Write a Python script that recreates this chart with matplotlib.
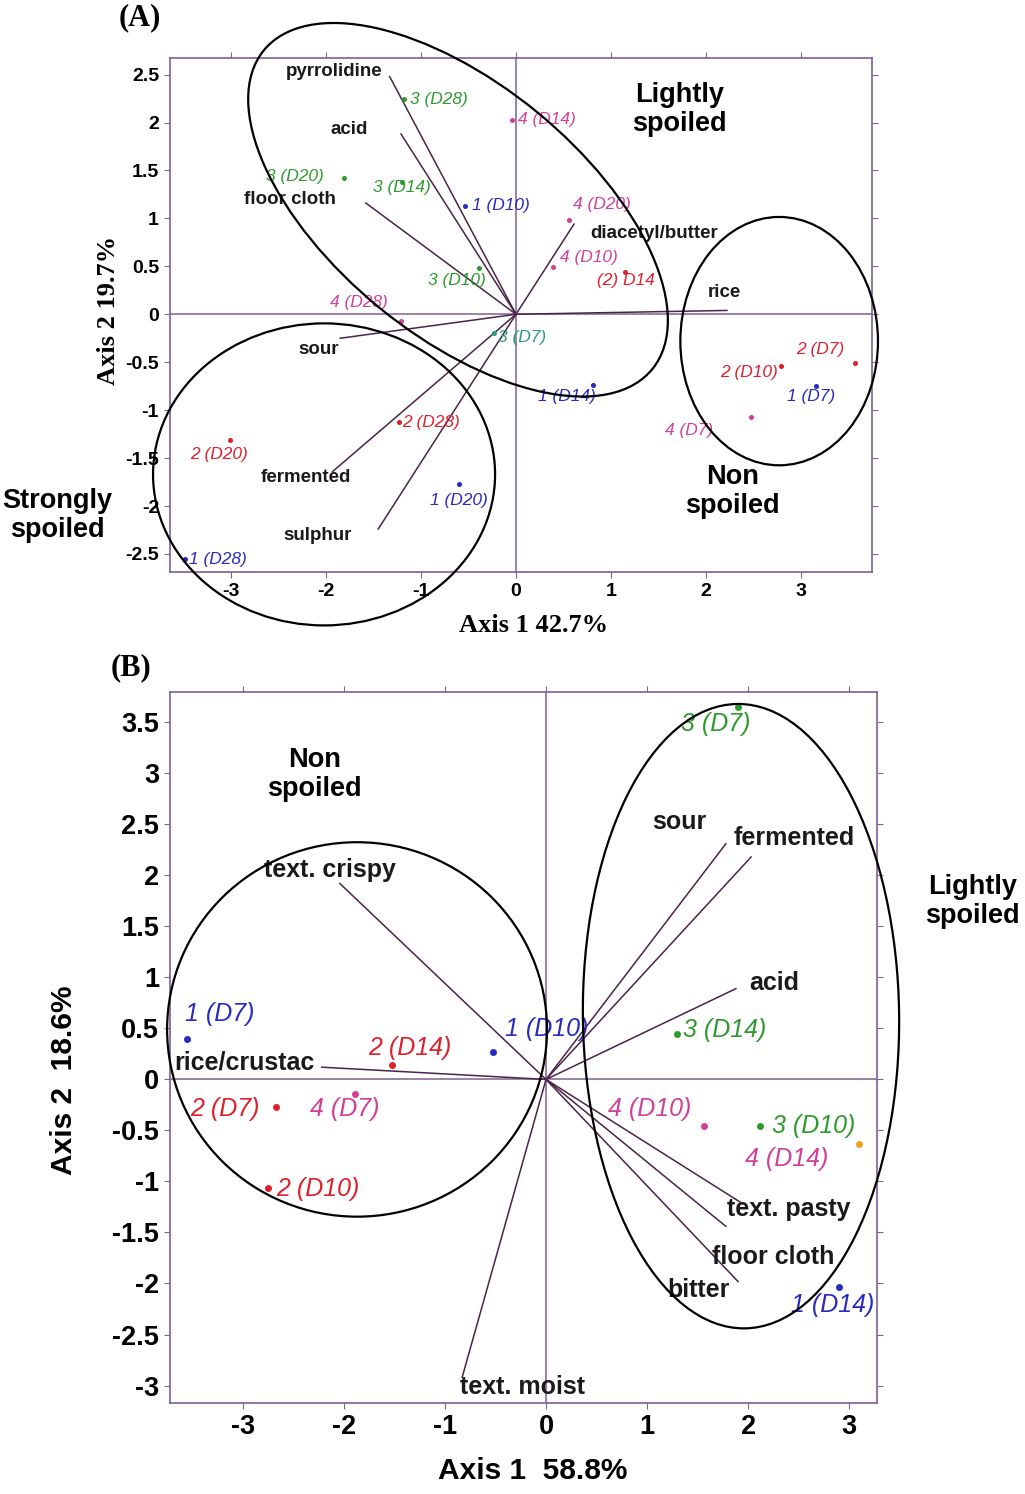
import numpy as np
import matplotlib.pyplot as plt
from matplotlib.patches import Ellipse
from matplotlib.ticker import FuncFormatter

# ---------------- panel A data ----------------
a_pts = ["3 (D28)", "4 (D14)", "3 (D20)", "3 (D14)", "1 (D10)", "4 (D20)", "4 (D10)",
         "(2) D14", "3 (D10)", "4 (D28)", "3 (D7)", "1 (D14)", "2 (D28)", "2 (D20)",
         "1 (D20)", "1 (D28)", "2 (D7)", "2 (D10)", "1 (D7)", "4 (D7)"]
a_x = [-1.18, -0.04, -1.81, -1.20, -0.54, 0.56, 0.39, 1.15, -0.39, -1.21, -0.23, 0.81,
       -1.23, -3.01, -0.60, -3.48, 3.57, 2.79, 3.16, 2.47]
a_y = [2.24, 2.03, 1.42, 1.38, 1.13, 0.98, 0.49, 0.44, 0.48, -0.07, -0.20, -0.74,
       -1.12, -1.31, -1.77, -2.55, -0.51, -0.54, -0.75, -1.07]
a_col = ["green", "pink", "green", "green", "blue", "pink", "pink", "red", "green", "pink",
         "teal", "blue", "red", "red", "blue", "blue", "red", "red", "blue", "pink"]
a_lab_x = [-1.12, 0.02, -2.63, -1.50, -0.46, 0.60, 0.46, 0.85, -0.93, -1.96, -0.19, 0.23,
           -1.20, -3.43, -0.91, -3.44, 2.95, 2.15, 2.85, 1.57]
a_lab_y = [2.24, 2.03, 1.44, 1.32, 1.13, 1.15, 0.59, 0.35, 0.35, 0.12, -0.24, -0.86,
           -1.13, -1.46, -1.94, -2.56, -0.37, -0.61, -0.86, -1.21]

a_vars = ["pyrrolidine", "acid", "floor cloth", "diacetyl/butter", "rice", "sour",
          "fermented", "sulphur"]
a_vx = [-1.33, -1.21, -1.58, 0.61, 2.22, -1.85, -1.93, -1.45]
a_vy = [2.48, 1.88, 1.16, 0.94, 0.04, -0.25, -1.64, -2.24]
a_vlab_x = [-2.42, -1.95, -2.86, 0.78, 2.02, -2.29, -2.69, -2.45]
a_vlab_y = [2.53, 1.93, 1.20, 0.84, 0.23, -0.37, -1.70, -2.31]

# ---------------- panel B data ----------------
b_pts = ["3 (D7)", "1 (D7)", "1 (D10)", "2 (D14)", "3 (D14)", "2 (D7)", "4 (D7)",
         "2 (D10)", "4 (D10)", "3 (D10)", "4 (D14)", "1 (D14)"]
b_x = [1.90, -3.55, -0.52, -1.52, 1.30, -2.67, -1.89, -2.75, 1.56, 2.12, 3.10, 2.90]
b_y = [3.65, 0.40, 0.27, 0.14, 0.45, -0.27, -0.14, -1.06, -0.46, -0.46, -0.63, -2.03]
b_col = ["green", "blue", "blue", "red", "green", "red", "pink", "red", "pink", "green",
         "orange", "blue"]
b_txtcol = ["green", "blue", "blue", "red", "green", "red", "pink", "red", "pink", "green",
            "pink", "blue"]
b_lab_x = [1.34, -3.57, -0.41, -1.76, 1.36, -3.52, -2.34, -2.67, 0.61, 2.24, 1.97, 2.42]
b_lab_y = [3.48, 0.64, 0.49, 0.31, 0.48, -0.29, -0.29, -1.07, -0.29, -0.46, -0.78, -2.21]

b_vars = ["text. crispy", "rice/crustac", "text. moist", "sour", "fermented", "acid",
          "text. pasty", "floor cloth", "bitter"]
b_vx = [-2.04, -2.22, -0.83, 1.78, 2.03, 1.88, 1.95, 1.78, 1.90]
b_vy = [1.92, 0.12, -2.92, 2.31, 2.18, 0.89, -1.22, -1.44, -1.98]
b_vlab_x = [-2.79, -3.68, -0.85, 1.05, 1.86, 2.01, 1.79, 1.64, 1.20]
b_vlab_y = [2.05, 0.17, -3.01, 2.52, 2.37, 0.95, -1.27, -1.74, -2.06]

colors = {"green": "#2e9a2e", "pink": "#d0409a", "blue": "#2a2ac0", "red": "#e0202c",
          "teal": "#2a9a80", "orange": "#f0a020"}
frame = "#7f6090"
vec = "#4a2448"
sans = "Liberation Sans"
serif = "Liberation Serif"

fig = plt.figure(figsize=(10.25, 14.94), dpi=100)


def style_axes(ax, size):
    for s in ax.spines.values():
        s.set_color(frame)
        s.set_linewidth(1.2)
    ax.axhline(0, color=frame, lw=1.1, zorder=1)
    ax.axvline(0, color=frame, lw=1.1, zorder=1)
    ax.tick_params(direction="out", length=4, color=frame, top=True, right=True,
                   labelsize=size, pad=4)
    ax.xaxis.set_major_formatter(FuncFormatter(lambda v, p: f"{v:g}"))
    ax.yaxis.set_major_formatter(FuncFormatter(lambda v, p: f"{v:g}"))
    for lab in ax.get_xticklabels() + ax.get_yticklabels():
        lab.set_fontfamily(sans)
        lab.set_fontweight("bold")


# ================= (A) =================
axA = fig.add_axes([0.166, 0.617, 0.685, 0.344])
axA.set_xlim(-3.64, 3.75)
axA.set_ylim(-2.69, 2.67)
axA.set_xticks(np.arange(-3, 4, 1))
axA.set_yticks(np.arange(-2.5, 2.75, 0.5))
style_axes(axA, 14)

for vx, vy in zip(a_vx, a_vy):
    axA.plot([0, vx], [0, vy], color=vec, lw=1.1, zorder=2)
for name, lx, ly in zip(a_vars, a_vlab_x, a_vlab_y):
    axA.text(lx, ly, name, fontsize=13.5, fontweight="bold", family=sans,
             ha="left", va="center", color="#1a1a1a")
for x, y, c in zip(a_x, a_y, a_col):
    axA.plot(x, y, "o", ms=2.6, color=colors[c], zorder=3)
for name, lx, ly, c in zip(a_pts, a_lab_x, a_lab_y, a_col):
    axA.text(lx, ly, name, fontsize=12.5, style="italic", family=sans,
             ha="left", va="center", color=colors[c])

axA.add_patch(Ellipse((-0.61, 1.09), 5.27, 2.63, angle=-39, fill=False, ec="black",
                      lw=1.6, clip_on=False, zorder=4))
axA.add_patch(Ellipse((-2.02, -1.67), 3.6, 3.15, fill=False, ec="black",
                      lw=1.6, clip_on=False, zorder=4))
axA.add_patch(Ellipse((2.77, -0.28), 2.08, 2.59, fill=False, ec="black",
                      lw=1.6, clip_on=False, zorder=4))

axA.text(1.72, 2.14, "Lightly\nspoiled", fontsize=19.5, fontweight="bold", family=sans,
         ha="center", va="center", linespacing=1.15)
axA.text(2.28, -1.85, "Non\nspoiled", fontsize=19.5, fontweight="bold", family=sans,
         ha="center", va="center", linespacing=1.15)
axA.text(-4.83, -2.10, "Strongly\nspoiled", fontsize=19.5, fontweight="bold", family=sans,
         ha="center", va="center", linespacing=1.15)

axA.set_xlabel("Axis 1 42.7%", fontsize=19, fontweight="bold", family=serif)
axA.set_ylabel("Axis 2 19.7%", fontsize=19, fontweight="bold", family=serif)
axA.xaxis.set_label_coords(0.517, -0.082)
axA.yaxis.set_label_coords(-0.072, 0.51)
fig.text(140 / 1025, 1 - 18 / 1494, "(A)", fontsize=22, fontweight="bold", family=serif,
         ha="center", va="center")

# ================= (B) =================
axB = fig.add_axes([0.166, 0.061, 0.690, 0.476])
axB.set_xlim(-3.72, 3.28)
axB.set_ylim(-3.17, 3.80)
axB.set_xticks(np.arange(-3, 4, 1))
axB.set_yticks(np.arange(-3, 3.75, 0.5))
style_axes(axB, 19.5)

for vx, vy in zip(b_vx, b_vy):
    axB.plot([0, vx], [0, vy], color=vec, lw=1.1, zorder=2)
for name, lx, ly in zip(b_vars, b_vlab_x, b_vlab_y):
    axB.text(lx, ly, name, fontsize=18, fontweight="bold", family=sans,
             ha="left", va="center", color="#1a1a1a")
for x, y, c in zip(b_x, b_y, b_col):
    axB.plot(x, y, "o", ms=4, color=colors[c], zorder=3)
for name, lx, ly, c in zip(b_pts, b_lab_x, b_lab_y, b_txtcol):
    axB.text(lx, ly, name, fontsize=18, style="italic", family=sans,
             ha="left", va="center", color=colors[c])

axB.add_patch(Ellipse((-1.87, 0.49), 3.76, 3.67, fill=False, ec="black",
                      lw=1.6, clip_on=False, zorder=4))
axB.add_patch(Ellipse((1.93, 0.62), 3.13, 6.12, angle=0.7, fill=False, ec="black",
                      lw=1.6, clip_on=False, zorder=4))

axB.text(-2.29, 2.99, "Non\nspoiled", fontsize=19.5, fontweight="bold", family=sans,
         ha="center", va="center", linespacing=1.15)
axB.text(4.22, 1.74, "Lightly\nspoiled", fontsize=19.5, fontweight="bold", family=sans,
         ha="center", va="center", linespacing=1.15)

axB.set_xlabel("Axis 1  58.8%", fontsize=21.5, fontweight="bold", family=sans)
axB.set_ylabel("Axis 2  18.6%", fontsize=21.5, fontweight="bold", family=sans)
axB.xaxis.set_label_coords(0.512, -0.076)
axB.yaxis.set_label_coords(-0.13, 0.454)
fig.text(131 / 1025, 1 - 668 / 1494, "(B)", fontsize=22, fontweight="bold", family=serif,
         ha="center", va="center")

fig.savefig("out.png", dpi=100)
